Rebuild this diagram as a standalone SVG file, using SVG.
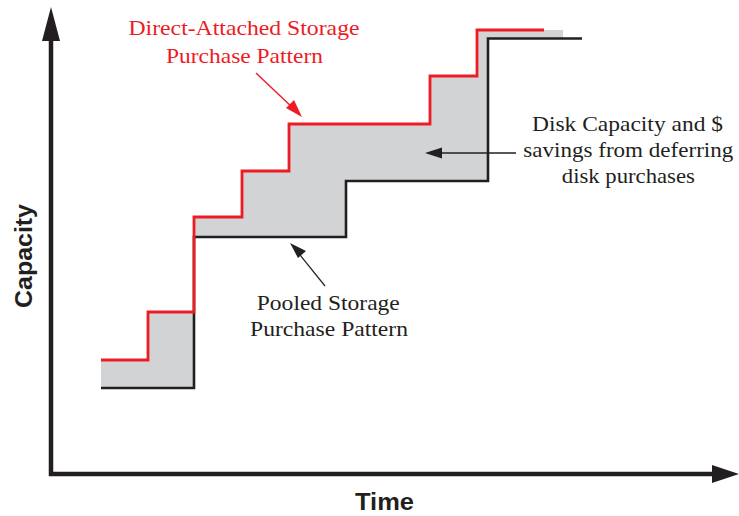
<svg xmlns="http://www.w3.org/2000/svg" width="739" height="516" viewBox="0 0 739 516">
<style>
.serif{font-family:"Liberation Serif","Times New Roman",serif;font-size:22px;text-anchor:middle}
.red{fill:#ed1c24}
.dark{fill:#231f20}
.axislbl{font-family:"Liberation Sans",Arial,sans-serif;font-weight:bold;text-anchor:middle;fill:#231f20}
.step{fill:none;stroke-linejoin:miter;stroke-linecap:butt}
</style>
<rect width="739" height="516" fill="#ffffff"/>
<g id="area">
<polygon fill="#d1d3d4" points="101,360 148,360 148,312 194,312 194,217 242,217 242,171 289,171 289,124 430,124 430,76 477,76 477,30 563,30 563,38.5 488,38.5 488,181 346,181 346,237 194,237 194,388 101,388"/>
</g>
<g id="axes">
<path d="M51,38 V474 H716" fill="none" stroke="#231f20" stroke-width="4.5"/>
<polygon points="51,7 42,41 60,41" fill="#231f20"/>
<polygon points="739,474 712,465 712,483" fill="#231f20"/>
</g>
<g id="pooled-line">
<path class="step" stroke="#231f20" stroke-width="2.6" d="M101,388 H194 V237 H346 V181 H488 V38.5 H582"/>
</g>
<g id="direct-line">
<path class="step" stroke="#ed1c24" stroke-width="2.8" d="M101,360 H148 V312 H194 V217 H242 V171 H289 V124 H430 V76 H477 V30 H544"/>
</g>
<g id="connectors">
<line x1="256" y1="73" x2="294" y2="109" stroke="#ed1c24" stroke-width="1.4"/>
<polygon points="302,117 286,108 294,100" fill="#ed1c24"/>
<line x1="325" y1="286" x2="296" y2="250" stroke="#231f20" stroke-width="1.2"/>
<polygon points="290,243 298,258 306,251" fill="#231f20"/>
<line x1="516" y1="153" x2="436" y2="153" stroke="#231f20" stroke-width="1.4"/>
<polygon points="425,153 442,147.5 442,158.5" fill="#231f20"/>
</g>
<g id="label-direct">
<text class="serif red" x="244" y="35" textLength="231" lengthAdjust="spacingAndGlyphs">Direct-Attached Storage</text>
<text class="serif red" x="244.5" y="63" textLength="157" lengthAdjust="spacingAndGlyphs">Purchase Pattern</text>
</g>
<g id="label-savings">
<text class="serif dark" x="627.5" y="131" textLength="191" lengthAdjust="spacingAndGlyphs">Disk Capacity and $</text>
<text class="serif dark" x="628.3" y="157" textLength="210" lengthAdjust="spacingAndGlyphs">savings from deferring</text>
<text class="serif dark" x="628.3" y="183" textLength="133" lengthAdjust="spacingAndGlyphs">disk purchases</text>
</g>
<g id="label-pooled">
<text class="serif dark" x="328.3" y="310" textLength="143" lengthAdjust="spacingAndGlyphs">Pooled Storage</text>
<text class="serif dark" x="329" y="336" textLength="158" lengthAdjust="spacingAndGlyphs">Purchase Pattern</text>
</g>
<g id="label-capacity">
<text class="axislbl" transform="translate(32,256) rotate(-90)" font-size="24" textLength="104" lengthAdjust="spacingAndGlyphs">Capacity</text>
</g>
<g id="label-time">
<text class="axislbl" x="384.5" y="510" font-size="24" textLength="59" lengthAdjust="spacingAndGlyphs">Time</text>
</g>
</svg>
